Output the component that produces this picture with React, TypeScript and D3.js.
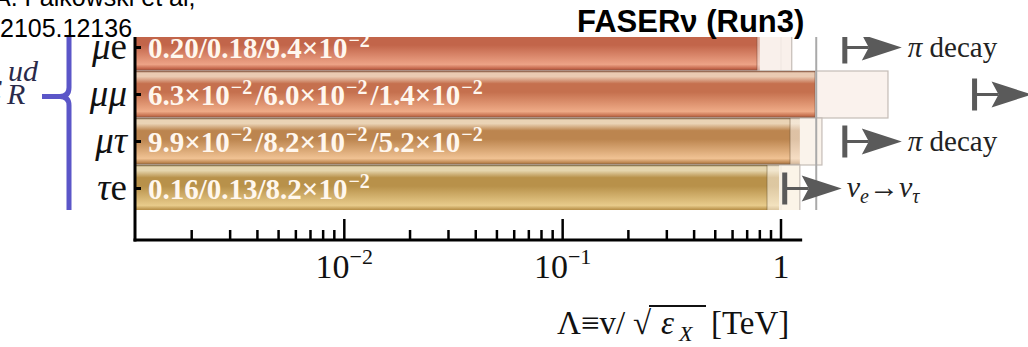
import React from "react";
import * as d3 from "d3";

// rows of the plot (flavour indices)
const channels = ["μe", "μμ", "μτ", "τe"];
// limits written on the bars
const epsLimits = [
  ["0.20", "0.18", "9.4e-2"],
  ["6.3e-2", "6.0e-2", "1.4e-2"],
  ["9.9e-2", "8.2e-2", "5.2e-2"],
  ["0.16", "0.13", "8.2e-2"],
];
// reach in Λ [TeV]
const solidReach = [0.776, 1.43, 1.1, 0.863];
const paleReach = [0.8, 1.43, 1.22, 0.98];
const ghostReach = [1.12, 3.09, 1.54, 1.22];
const markerReach = [1.96, 7.7, 1.96, 1.04];
const markerNote = ["pi", "", "pi", "nu"];
const refReach = 1.45;
const axisMin = 1.1e-3;
const axisMax = 1.25;
const majorTicks = [1e-2, 1e-1, 1];
const tickLabels = [["10", "−2"], ["10", "−1"], ["1", ""]];

// colours per row
const edgeTone = ["#7a4535", "#7a4a35", "#70553a", "#6e5a35"];
const creamTone = ["#eccab4", "#eacab2", "#ead3b5", "#e5d5ad"];
const darkTone = ["#c2654a", "#c5704e", "#bc854f", "#b8914a"];
const lightTone = ["#eda386", "#efab87", "#f0c293", "#e8cb8b"];
const ghostTone = ["#f8ede7", "#f9f0ea", "#f9f1e8", "#faf2e4"];

const serif = "'Liberation Serif', 'Times New Roman', serif";
const sans = "'Liberation Sans', Arial, sans-serif";

function labelSegments(vals) {
  const segs = [];
  vals.forEach((v, j) => {
    const pre = j > 0 ? "/" : "";
    if (v.includes("e")) {
      const [m, e] = v.split("e");
      segs.push({ t: pre + m + "×10", sup: false });
      segs.push({ t: e.replace("-", "−"), sup: true });
    } else {
      segs.push({ t: pre + v, sup: false });
    }
  });
  return segs;
}

export default function App() {
  const width = 1028;
  const height = 347;
  const axisY = 240;
  const clipTop = 37;
  const clipBottom = 210;

  const x = d3.scaleLog().domain([axisMin, 1]).range([135, 781]);
  const y = d3.scaleBand().domain(channels).range([24, 212]).padding(0);
  const bw = y.bandwidth();
  const x0 = x(axisMin);
  const xEnd = x(axisMax);

  const minor = x.ticks().filter((t) => t >= 2e-3 && t <= axisMax);
  const isMajor = (t) => Math.abs(Math.log10(t) - Math.round(Math.log10(t))) < 1e-6;

  const bracePath = d3.path();
  const bx = 69;
  const cusp = y("μμ") + bw / 2 + 2;
  bracePath.moveTo(bx, 30);
  bracePath.lineTo(bx, cusp - 9);
  bracePath.quadraticCurveTo(bx, cusp, bx - 9, cusp);
  bracePath.lineTo(42, cusp);
  bracePath.moveTo(bx - 9, cusp);
  bracePath.quadraticCurveTo(bx, cusp, bx, cusp + 9);
  bracePath.lineTo(bx, 215);

  return (
    <svg width={width} height={height} style={{ position: "absolute", left: 0, top: 0, display: "block" }}>
      <defs>
        <clipPath id="plotClip">
          <rect x={0} y={clipTop} width={width} height={clipBottom - clipTop} />
        </clipPath>
        {channels.map((c, i) => (
          <linearGradient key={c} id={`bar${i}`} x1="0" y1="0" x2="0" y2="1">
            <stop offset="0" stopColor={edgeTone[i]} />
            <stop offset="0.04" stopColor={creamTone[i]} />
            <stop offset="0.12" stopColor={creamTone[i]} />
            <stop offset="0.27" stopColor={darkTone[i]} />
            <stop offset="0.45" stopColor={darkTone[i]} />
            <stop offset="0.86" stopColor={lightTone[i]} />
            <stop offset="0.95" stopColor={darkTone[i]} />
            <stop offset="1" stopColor={edgeTone[i]} />
          </linearGradient>
        ))}
      </defs>

      {/* citation */}
      <text x={-6} y={6} fontFamily={sans} fontSize={25} fill="#000">A. Falkowski et al,</text>
      <text x={0} y={37} fontFamily={sans} fontSize={25} fill="#000">2105.12136</text>

      <g clipPath="url(#plotClip)">
        {/* brace */}
        <path d={bracePath.toString()} fill="none" stroke="#5b56c8" strokeWidth={5} />

        {/* grid lines at decades */}
        {majorTicks.map((t) => (
          <line key={t} x1={x(t)} x2={x(t)} y1={clipTop} y2={axisY} stroke="#d4d4d4" strokeWidth={1.5} />
        ))}

        {channels.map((c, i) => (
          <g key={c}>
            <rect x={x0} y={y(c)} width={x(ghostReach[i]) - x0} height={bw}
              fill={ghostTone[i]} fillOpacity={0.85} stroke="#c4bcb6" strokeWidth={1.2} />
            <rect x={x0} y={y(c)} width={x(paleReach[i]) - x0} height={bw}
              fill={`url(#bar${i})`} opacity={0.45} />
            <rect x={x0} y={y(c)} width={x(solidReach[i]) - x0} height={bw}
              fill={`url(#bar${i})`} />
            <line x1={x(solidReach[i])} x2={x(solidReach[i])} y1={y(c)} y2={y(c) + bw}
              stroke={edgeTone[i]} strokeOpacity={0.35} strokeWidth={1.5} />
          </g>
        ))}

        <line x1={x(refReach)} x2={x(refReach)} y1={clipTop} y2={clipBottom} stroke="#a9a9a9" strokeWidth={2} />

        {/* markers */}
        {channels.map((c, i) => {
          const mx = x(markerReach[i]);
          const my = y(c) + bw / 2;
          return (
            <g key={c} fill="#5a5a5a" stroke="none">
              <rect x={mx - 2.5} y={my - 16} width={5} height={32} />
              <rect x={mx} y={my - 1.5} width={24} height={3} />
              <path d={`M${mx + 17},${my - 13} L${mx + 57},${my} L${mx + 17},${my + 13} L${mx + 24},${my} Z`} />
              {markerNote[i] === "pi" && (
                <text x={mx + 63} y={my + 9} fontFamily={serif} fontSize={29} fill="#222">
                  <tspan fontStyle="italic">π</tspan> decay
                </text>
              )}
              {markerNote[i] === "nu" && (
                <text x={mx + 62} y={my + 8} fontFamily={serif} fontSize={30} fill="#222">
                  <tspan fontStyle="italic">ν</tspan>
                  <tspan fontStyle="italic" fontSize={20} dy={6}>e</tspan>
                  <tspan dy={-6}>→</tspan>
                  <tspan fontStyle="italic">ν</tspan>
                  <tspan fontStyle="italic" fontSize={20} dy={6}>τ</tspan>
                </text>
              )}
            </g>
          );
        })}

        {/* values on bars */}
        {channels.map((c, i) => {
          const segs = labelSegments(epsLimits[i]);
          let up = false;
          return (
            <text key={c} x={148} y={y(c) + bw / 2 + 10} fontFamily={serif} fontWeight="bold"
              fontSize={29} fill="#fff7ee">
              {segs.map((s, k) => {
                let dy = 0;
                if (s.sup && !up) { dy = -11; up = true; }
                else if (!s.sup && up) { dy = 11; up = false; }
                return (
                  <tspan key={k} dy={dy} fontSize={s.sup ? 20 : 29} dx={s.sup ? 1 : (k > 0 && segs[k - 1].sup ? 3 : 0)}>
                    {s.t}
                  </tspan>
                );
              })}
            </text>
          );
        })}
      </g>

      {/* epsilon label */}
      <text x={-14} y={100} fontFamily={serif} fontStyle="italic" fontSize={40} fill="#2a2a4a">ε</text>
      <text x={8} y={81} fontFamily={serif} fontStyle="italic" fontSize={30} fill="#2a2a4a">ud</text>
      <text x={7} y={104} fontFamily={serif} fontStyle="italic" fontSize={30} fill="#2a2a4a">R</text>

      {/* row labels and left ticks */}
      {channels.map((c) => (
        <g key={c}>
          <text x={127} y={y(c) + bw / 2 + 11} textAnchor="end" fontFamily={serif}
            fontSize={37} fill="#111">
            {Array.from(c).map((ch, k) => (
              <tspan key={k} fontStyle={ch === "e" ? "normal" : "italic"}>{ch}</tspan>
            ))}
          </text>
          <line x1={x0} x2={x0 + 6} y1={y(c) + bw / 2} y2={y(c) + bw / 2} stroke="#000" strokeWidth={3} />
        </g>
      ))}

      {/* axes */}
      <line x1={x0} x2={x0} y1={clipTop} y2={axisY + 1.5} stroke="#000" strokeWidth={3} />
      <line x1={x0 - 1.5} x2={xEnd} y1={axisY} y2={axisY} stroke="#000" strokeWidth={3} />
      {minor.map((t) => (
        <line key={t} x1={x(t)} x2={x(t)} y1={axisY} y2={axisY - (isMajor(t) ? 21 : 10)}
          stroke="#000" strokeWidth={2.5} />
      ))}
      {majorTicks.map((t, i) => (
        <text key={t} x={x(t)} y={278} textAnchor="middle" fontFamily={serif} fontSize={34} fill="#111">
          {tickLabels[i][0]}
          {tickLabels[i][1] && <tspan dy={-14} fontSize={22}>{tickLabels[i][1]}</tspan>}
        </text>
      ))}

      {/* axis title */}
      <text y={334} fontFamily={serif} fontSize={33} fill="#111">
        <tspan x={557}>Λ≡v/</tspan>
        <tspan x={633}>√</tspan>
        <tspan x={661} fontStyle="italic">ε</tspan>
        <tspan x={679} dy={7} fontSize={22} fontStyle="italic">X</tspan>
        <tspan x={711} dy={-7}>[TeV]</tspan>
      </text>
      <line x1={649} x2={706} y1={306} y2={306} stroke="#111" strokeWidth={1.8} />

      {/* title */}
      <text x={577} y={32} fontFamily={sans} fontWeight="bold" fontSize={31} fill="#000">FASERν (Run3)</text>
    </svg>
  );
}
